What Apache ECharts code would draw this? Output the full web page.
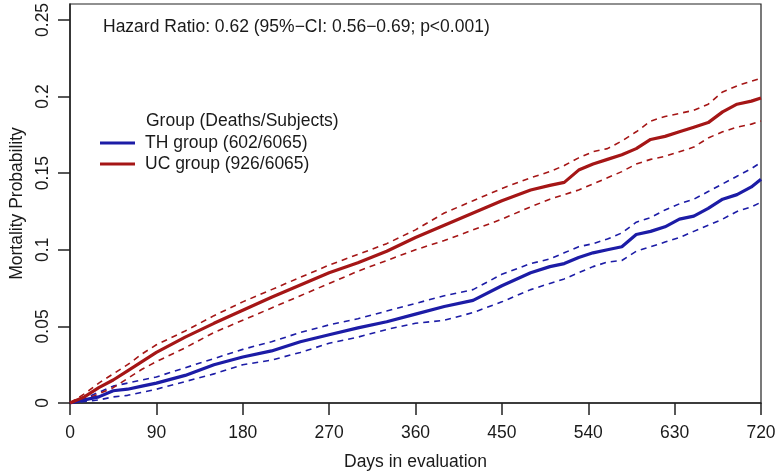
<!DOCTYPE html>
<html>
<head>
<meta charset="utf-8">
<script src="https://cdn.jsdelivr.net/npm/echarts@6/dist/echarts.min.js"></script>
<style>
html,body{margin:0;padding:0;background:#fff;}
#chart1{width:778px;height:471px;}
</style>
</head>
<body>
<div id="chart1"></div>
<script>
// days read along the x axis
var days = [0,15,30,45,60,75,90,120,150,180,210,240,270,300,330,360,390,420,450,480,500,515,530,545,560,575,590,605,620,635,650,665,680,695,710,720];

// UC group: estimate, upper and lower CI
var ucEst = [0,0.004,0.010,0.015,0.021,0.027,0.033,0.043,0.052,0.0605,0.069,0.077,0.085,0.0915,0.099,0.108,0.116,0.124,0.132,0.139,0.142,0.144,0.152,0.156,0.159,0.162,0.166,0.172,0.174,0.177,0.180,0.183,0.190,0.195,0.197,0.199];
var ucHi  = [0,0.006,0.013,0.019,0.025,0.032,0.038,0.047,0.057,0.066,0.074,0.082,0.090,0.097,0.104,0.113,0.124,0.132,0.140,0.147,0.151,0.155,0.160,0.164,0.166,0.171,0.177,0.184,0.187,0.189,0.191,0.195,0.203,0.207,0.210,0.212];
var ucLo  = [0,0.002,0.006,0.010,0.016,0.022,0.027,0.036,0.046,0.054,0.062,0.070,0.078,0.086,0.093,0.100,0.106,0.113,0.120,0.128,0.133,0.136,0.139,0.143,0.147,0.151,0.156,0.159,0.161,0.164,0.167,0.173,0.177,0.180,0.182,0.184];

// TH group: estimate, upper and lower CI
var thEst = [0,0.002,0.004,0.008,0.009,0.011,0.013,0.018,0.025,0.030,0.034,0.040,0.0445,0.049,0.053,0.058,0.063,0.067,0.0765,0.085,0.089,0.091,0.095,0.098,0.100,0.102,0.110,0.112,0.115,0.120,0.122,0.127,0.133,0.136,0.141,0.146];
var thHi  = [0,0.003,0.007,0.011,0.013,0.015,0.017,0.023,0.029,0.035,0.040,0.046,0.051,0.055,0.060,0.065,0.070,0.074,0.084,0.091,0.094,0.098,0.102,0.104,0.107,0.111,0.118,0.121,0.126,0.130,0.133,0.138,0.143,0.148,0.153,0.157];
var thLo  = [0,0.001,0.002,0.004,0.005,0.007,0.009,0.014,0.019,0.025,0.028,0.033,0.039,0.043,0.048,0.052,0.054,0.059,0.066,0.074,0.078,0.081,0.085,0.089,0.092,0.093,0.099,0.102,0.105,0.108,0.112,0.116,0.120,0.125,0.128,0.131];

var xTicks = [0,90,180,270,360,450,540,630,720];
var yTicks = [0,0.05,0.1,0.15,0.2,0.25];
var groupNames = ['TH group (602/6065)','UC group (926/6065)'];

var BLUE = '#1c1ca6';
var RED = '#a51616';
var INK = '#1a1a1a';
var FONT = 'Liberation Sans, Arial, sans-serif';
var FS = 17.5;

function pairs(vals){
	return days.map(function(d,i){ return [d, vals[i]]; });
}

function mainLine(name, vals, color){
	return {
		name:name, type:'line', data:pairs(vals), symbol:'none',
		lineStyle:{color:color, width:3.2}, itemStyle:{color:color}, z:3
	};
}

function ciLine(name, vals, color){
	return {
		name:name, type:'line', data:pairs(vals), symbol:'none',
		lineStyle:{color:color, width:1.6, type:[6,5]}, itemStyle:{color:color}, z:2
	};
}

var myChart = {
	init:function(){
		var option = {
			animation:false,
			textStyle:{fontFamily:FONT},
			grid:{
				left:70, right:17, top:4, bottom:68,
				containLabel:false, outerBoundsMode:'none',
				show:true, borderColor:'#222', borderWidth:1.2, backgroundColor:'transparent'
			},
			graphic:[
				{type:'text', left:103, top:18, style:{text:'Hazard Ratio: 0.62 (95%\u2212CI: 0.56\u22120.69; p<0.001)', font:FS + 'px ' + FONT, fill:INK}},
				{type:'text', left:146, top:112, style:{text:'Group (Deaths/Subjects)', font:FS + 'px ' + FONT, fill:INK}}
			],
			legend:{
				data:groupNames,
				orient:'vertical',
				left:95, top:129,
				icon:'rect',
				itemWidth:35, itemHeight:3, itemGap:3,
				textStyle:{fontSize:FS, lineHeight:18, color:INK, fontFamily:FONT, padding:[0,0,0,5]}
			},
			xAxis:{
				type:'value', min:0, max:720, interval:90,
				name:'Days in evaluation', nameLocation:'middle', nameGap:50,
				nameTextStyle:{fontSize:FS, color:INK},
				axisLine:{lineStyle:{color:'#222', width:1.5}},
				axisTick:{length:12, lineStyle:{color:'#222', width:1.5}, customValues:xTicks},
				axisLabel:{fontSize:FS, color:INK, margin:21, customValues:xTicks},
				splitLine:{show:false}
			},
			yAxis:{
				type:'value', min:0, max:0.2604,
				name:'Mortality Probability', nameLocation:'middle', nameGap:39,
				nameTextStyle:{fontSize:FS, color:INK},
				axisLine:{show:true, lineStyle:{color:'#222', width:1.5}},
				axisTick:{show:true, length:12, lineStyle:{color:'#222', width:1.5}, customValues:yTicks},
				axisLabel:{fontSize:FS, color:INK, rotate:90, margin:18, customValues:yTicks,
					formatter:function(v){ return v === 0 ? '0' : String(+v.toFixed(2)); }},
				splitLine:{show:false}
			},
			series:[
				ciLine('TH upper', thHi, BLUE),
				ciLine('TH lower', thLo, BLUE),
				ciLine('UC upper', ucHi, RED),
				ciLine('UC lower', ucLo, RED),
				mainLine(groupNames[0], thEst, BLUE),
				mainLine(groupNames[1], ucEst, RED)
			]
		};
		var chart = echarts.init(document.getElementById('chart1'));
		chart.setOption(option);
		return chart;
	}
};

var chartObj = myChart.init();
</script>
</body>
</html>
